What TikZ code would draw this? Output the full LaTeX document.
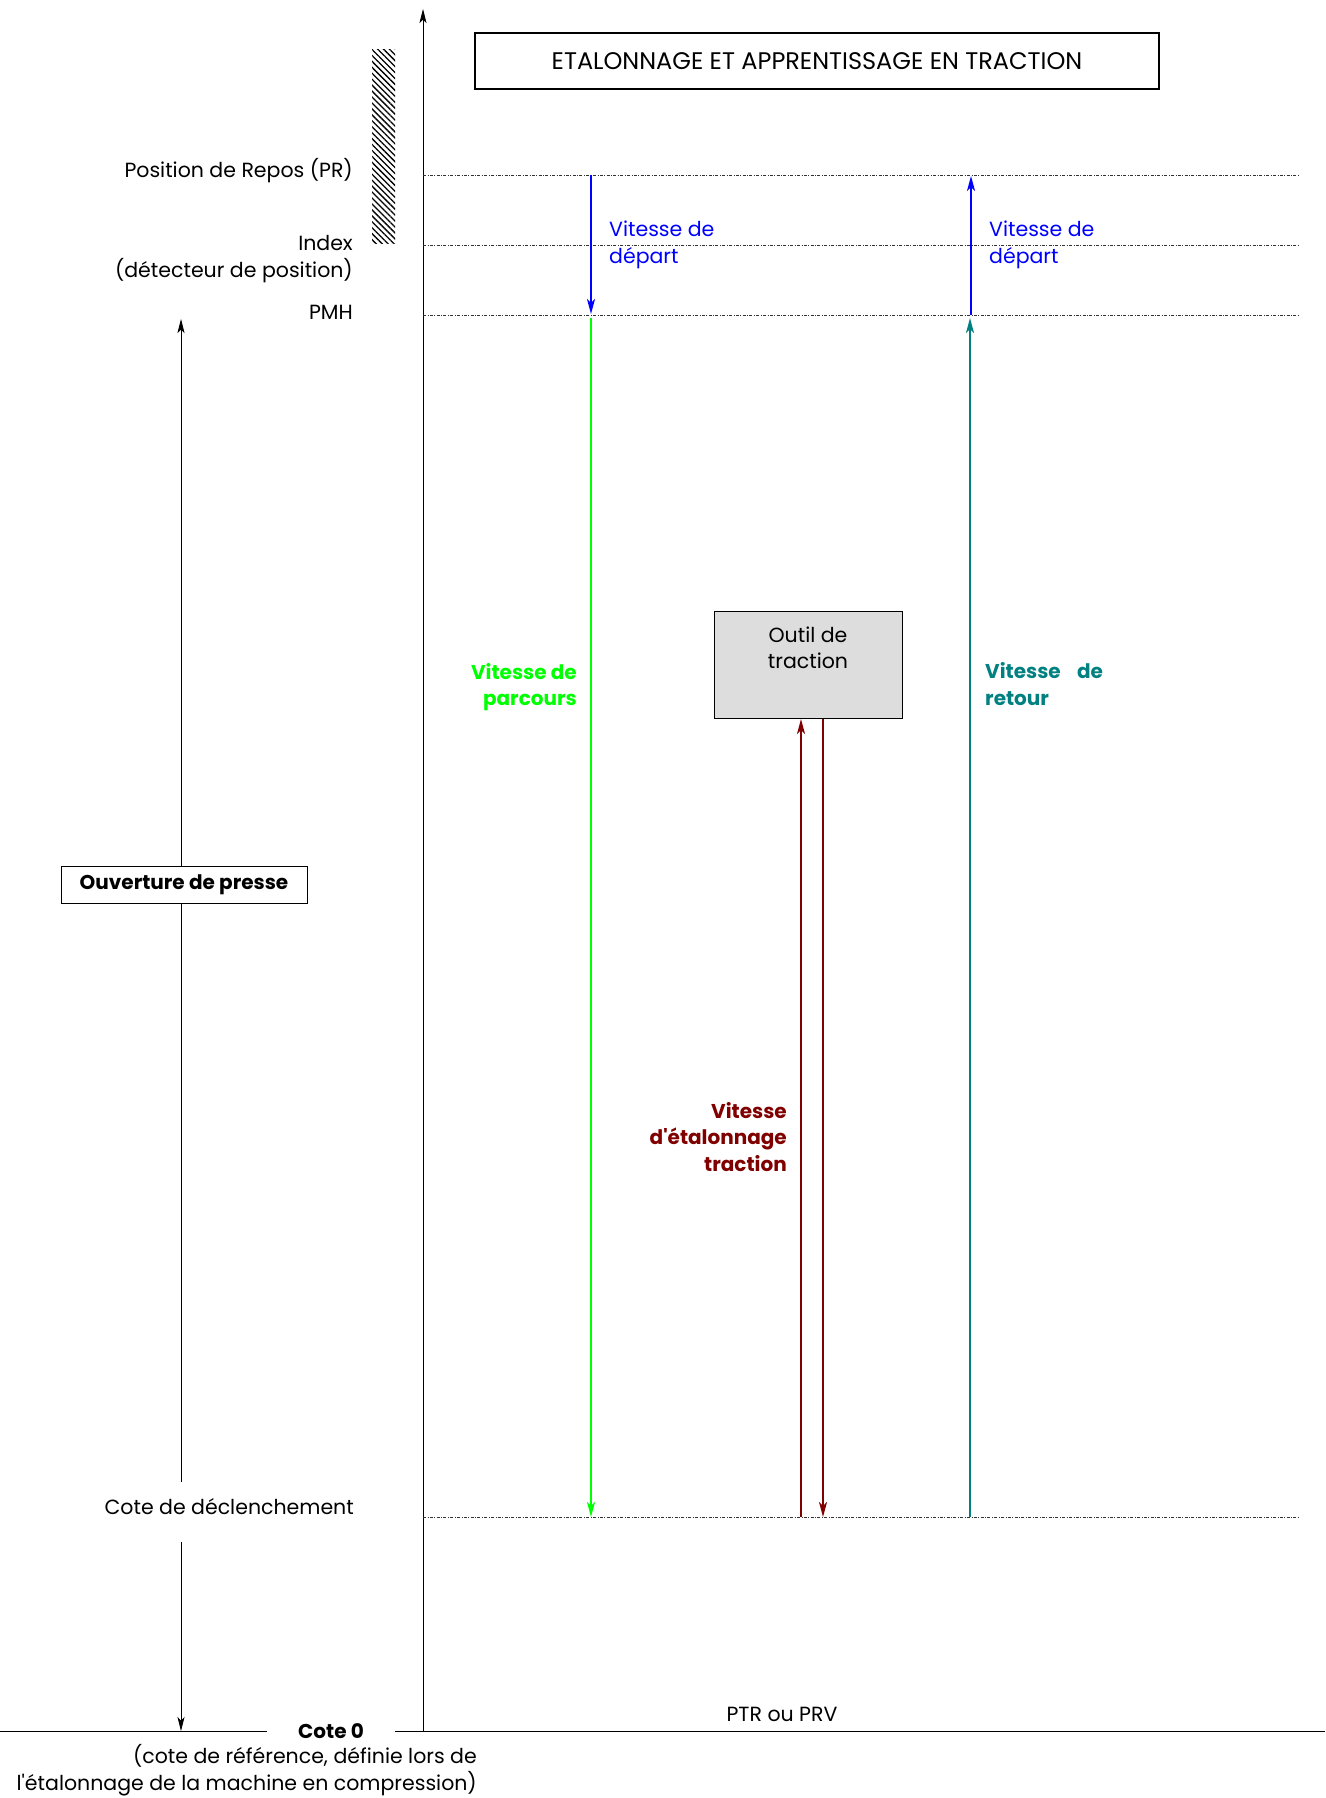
\documentclass[tikz,border=0pt]{standalone}
\usepackage{fontspec}
\setmainfont{Poppins}[Ligatures=TeXOff]
\usetikzlibrary{arrows.meta,patterns.meta}
\definecolor{myblue}{RGB}{0,0,255}
\definecolor{mygreen}{RGB}{0,255,0}
\definecolor{myteal}{RGB}{0,128,128}
\definecolor{mydred}{RGB}{128,0,0}
\definecolor{toolgray}{RGB}{221,221,221}
\begin{document}
\begin{tikzpicture}[x=1pt,y=-1pt,
  font=\fontsize{20.5}{26.5}\selectfont,
  tipa/.style={-{Stealth[length=14pt,width=7pt,inset=3.5pt]}},
  tipb/.style={-{Stealth[length=15pt,width=8pt,inset=4pt]}},
  lvl/.style={line width=0.7pt, dash pattern=on 3pt off 1.5pt on 0.8pt off 1.5pt, black!80},
  move/.style={line width=1.8pt},
  lbl/.style={inner sep=0pt},
  boldlbl/.style={inner sep=0pt, font=\fontsize{20}{26.5}\selectfont\bfseries}]
\useasboundingbox (0,0) rectangle (1325,1798);

% title
\node[draw, line width=1.3pt, minimum width=684pt, minimum height=56pt, inner sep=0pt, font=\fontsize{24}{28}\selectfont] (title) at (817,61) {ETALONNAGE ET APPRENTISSAGE EN TRACTION};

% hatched block
\fill[pattern={Lines[angle=-45,distance=4.2pt,line width=1.3pt]}] (372,50) rectangle (395,243);

% main axis
\coordinate (axB) at (423,1731);
\coordinate (axT) at (423,9);
\draw[tipa, line width=0.8pt] (axB) -- (axT);

% level lines
\coordinate (prL) at (423,175); \coordinate (prR) at (1299,175);
\coordinate (ixL) at (423,245); \coordinate (ixR) at (1299,245);
\coordinate (pmL) at (423,315); \coordinate (pmR) at (1299,315);
\coordinate (cdL) at (423,1517); \coordinate (cdR) at (1299,1517);
\draw[lvl] (prL) -- (prR);
\draw[lvl] (ixL) -- (ixR);
\draw[lvl] (pmL) -- (pmR);
\draw[lvl] (cdL) -- (cdR);

% baseline and Cote 0
\node[boldlbl, minimum width=127pt, minimum height=20pt] (c0) at (331,1731) {Cote 0};
\coordinate (blL) at (0,1731);
\coordinate (blR) at (1325,1731);
\draw[line width=1pt] (blL) -- (c0.west);
\draw[line width=1pt] (c0.east) -- (blR);
\node[lbl, align=right, anchor=east] (c0note) at (477,1770) {(cote de référence, définie lors de\\l'étalonnage de la machine en compression)};
\node[lbl] (ptr) at (782,1714) {PTR ou PRV};

% left labels
\node[lbl, anchor=east] (pr) at (353,171) {Position de Repos (PR)};
\node[lbl, align=right, anchor=east] (idx) at (353,259) {Index\\(détecteur de position)};
\node[lbl, anchor=east] (pmh) at (353,312) {PMH};
\node[lbl, anchor=east] (decl) at (354,1507) {Cote de déclenchement};

% left dimension
\coordinate (dTop) at (181,319);
\coordinate (dA) at (181,1482);
\coordinate (dB) at (181,1542);
\coordinate (dBot) at (181,1731);
\draw[tipa, line width=0.8pt] (dA) -- (dTop);
\draw[tipa, line width=0.8pt] (dB) -- (dBot);
\node[draw, fill=white, line width=0.8pt, minimum width=246pt, minimum height=37pt, inner sep=0pt, font=\fontsize{20}{26}\selectfont\bfseries] (ouv) at (184,885) {Ouverture de presse};

% blue start arrows
\coordinate (b1s) at (591,175); \coordinate (b1e) at (591,314);
\draw[tipb, move, myblue] (b1s) -- (b1e);
\node[lbl, align=left, anchor=west, text=myblue] (b1l) at (609,245) {Vitesse de\\départ};
\coordinate (b2s) at (971,315); \coordinate (b2e) at (971,176);
\draw[tipb, move, myblue] (b2s) -- (b2e);
\node[lbl, align=left, anchor=west, text=myblue] (b2l) at (989,245) {Vitesse de\\départ};

% green travel arrow
\coordinate (gs) at (591,318); \coordinate (ge) at (591,1517);
\draw[tipb, line width=1.6pt, mygreen] (gs) -- (ge);
\node[boldlbl, align=right, anchor=east, text=mygreen] (gl) at (577,687) {Vitesse de\\parcours};

% teal return arrow
\coordinate (ts) at (970,1517); \coordinate (te) at (970,318);
\draw[tipb, line width=1.6pt, myteal] (ts) -- (te);
\node[boldlbl, align=left, anchor=west, text=myteal] (tl) at (985,684) {Vitesse\hspace{0.6em} de\\retour};

% tool
\node[draw, fill=toolgray, line width=0.8pt, minimum width=188pt, minimum height=107pt, inner sep=0pt] (tool) at (808,664.5) {};
\node[lbl, align=center] (tooltxt) at (808,648) {Outil de\\traction};

% dark red calibration arrows
\coordinate (r1s) at (801,1517); \coordinate (r1e) at (801,719);
\draw[tipb, line width=1.6pt, mydred] (r1s) -- (r1e);
\coordinate (r2s) at (823,719); \coordinate (r2e) at (823,1517);
\draw[tipb, line width=1.6pt, mydred] (r2s) -- (r2e);
\node[boldlbl, align=right, anchor=east, text=mydred] (rl) at (787,1137) {Vitesse\\d'étalonnage\\traction};
\end{tikzpicture}
\end{document}
